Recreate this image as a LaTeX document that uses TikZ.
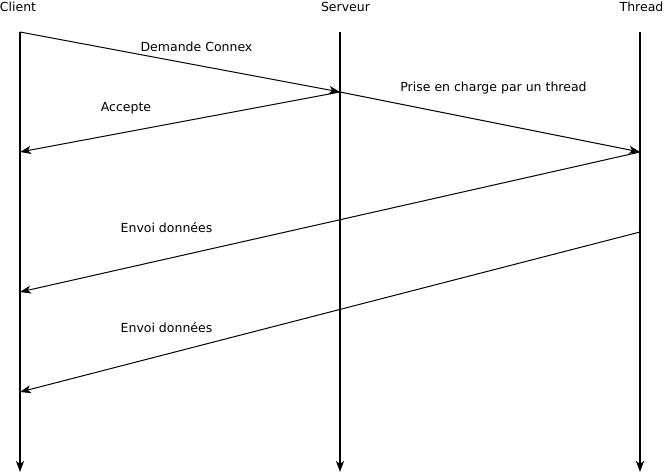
\documentclass[tikz,border=0pt]{standalone}
\usepackage{fontspec}
\setmainfont{DejaVu Sans}
\usepackage{tikz}
\usetikzlibrary{arrows.meta}

\begin{document}
\begin{tikzpicture}[x=1pt,y=-1pt,>={Stealth[length=11pt,width=8pt,inset=3pt]},
    lifeline/.style={->,line width=2pt},
    msg/.style={->,line width=1pt},
    lbl/.style={font=\fontsize{12.5}{15}\selectfont,inner sep=0pt,anchor=base}]
    \useasboundingbox (0,0) rectangle (667,476);

    % lifelines
    \node[lbl] (client)  at (18,12)    {Client};
    \node[lbl] (serveur) at (345.5,12) {Serveur};
    \node[lbl] (thread)  at (641.5,12) {Thread};

    \coordinate (c0) at (20,32);   \coordinate (cE) at (20,472);
    \coordinate (s0) at (340,32);  \coordinate (sE) at (340,472);
    \coordinate (t0) at (640,32);  \coordinate (tE) at (640,472);

    \coordinate (c1) at (20,152);
    \coordinate (c2) at (20,292);
    \coordinate (c3) at (20,392);
    \coordinate (s1) at (340,92);
    \coordinate (t1) at (640,152);
    \coordinate (t2) at (640,232);

    \draw[lifeline] (c0) -- (cE);
    \draw[lifeline] (s0) -- (sE);
    \draw[lifeline] (t0) -- (tE);

    % messages
    \draw[msg] (c0) -- (s1);
    \draw[msg] (s1) -- (c1);
    \draw[msg] (s1) -- (t1);
    \draw[msg] (t1) -- (c2);
    \draw[msg] (t2) -- (c3);

    \node[lbl] (dem)  at (196.5,52)  {Demande Connex};
    \node[lbl] (acc)  at (126,112)   {Accepte};
    \node[lbl] (pris) at (493.5,92)  {Prise en charge par un thread};
    \node[lbl] (env1) at (166.5,232) {Envoi données};
    \node[lbl] (env2) at (166.5,332) {Envoi données};
\end{tikzpicture}
\end{document}
